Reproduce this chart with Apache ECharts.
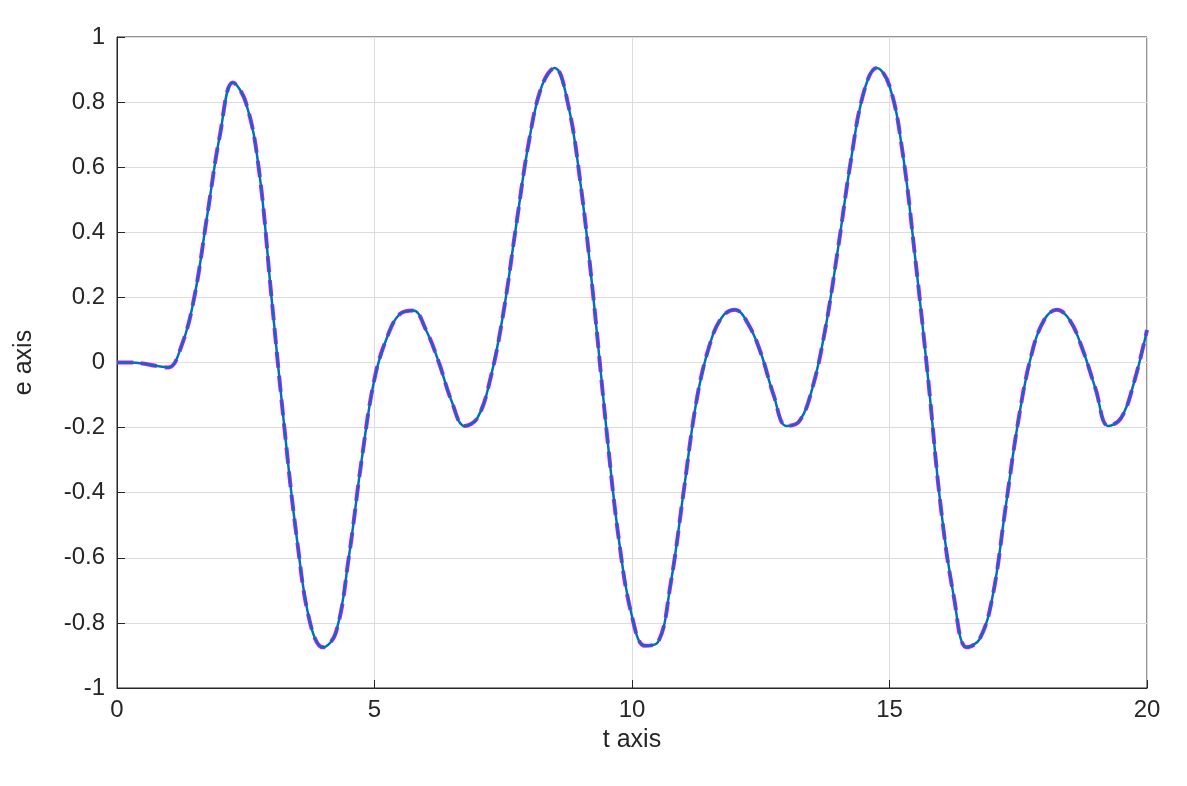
<!DOCTYPE html>
<html>
<head>
<meta charset="utf-8">
<script src="https://cdn.jsdelivr.net/npm/echarts@6/dist/echarts.min.js"></script>
<style>html,body{margin:0;padding:0;background:#fff}#chart{width:1187px;height:786px}</style>
</head>
<body>
<div id="chart"></div>
<script>
// t values (step 0.25) and e values
var tValues = [];
for (var i = 0; i <= 80; i++) { tValues.push(i * 0.25); }
var eValues = [
    0, 0, -0.003, -0.01, -0.015, 0.05, 0.2, 0.45, 0.7, 0.86,
    0.8, 0.6, 0.2, -0.2, -0.55, -0.8, -0.875, -0.83, -0.6, -0.3,
    -0.05, 0.08, 0.15, 0.16, 0.1, 0.0, -0.12, -0.195, -0.17, -0.05,
    0.15, 0.42, 0.68, 0.85, 0.905, 0.8, 0.55, 0.2, -0.2, -0.55,
    -0.78, -0.87, -0.86, -0.68, -0.4, -0.12, 0.05, 0.14, 0.162, 0.12,
    0.03, -0.1, -0.195, -0.18, -0.08, 0.1, 0.35, 0.62, 0.83, 0.905,
    0.85, 0.65, 0.32, -0.05, -0.45, -0.72, -0.875, -0.85, -0.72, -0.45,
    -0.18, 0.02, 0.13, 0.162, 0.13, 0.04, -0.08, -0.195, -0.17, -0.06,
    0.1
];

var data = tValues.map(function (t, i) { return [t, eValues[i]]; });
var font = 'Liberation Sans, Arial, sans-serif';

var chart = echarts.init(document.getElementById('chart'));
chart.setOption({
    animation: false,
    grid: { left: 117, right: 40, top: 37, bottom: 98, show: true, borderColor: '#262626', borderWidth: 1 },
    xAxis: {
        type: 'value', min: 0, max: 20, interval: 5,
        name: 't axis', nameLocation: 'middle', nameGap: 40,
        nameTextStyle: { fontFamily: font, fontSize: 25, color: '#262626' },
        axisLine: { show: true, onZero: false, lineStyle: { color: '#262626' } },
        axisTick: { inside: true, length: 8, lineStyle: { color: '#262626' } },
        axisLabel: { fontFamily: font, fontSize: 24, color: '#262626', margin: 10 },
        splitLine: { lineStyle: { color: '#dcdcdc' } }
    },
    yAxis: {
        type: 'value', min: -1, max: 1, interval: 0.2,
        name: 'e axis', nameLocation: 'middle', nameGap: 80,
        nameTextStyle: { fontFamily: font, fontSize: 25, color: '#262626' },
        axisLine: { show: true, onZero: false, lineStyle: { color: '#262626' } },
        axisTick: { inside: true, length: 8, lineStyle: { color: '#262626' } },
        axisLabel: {
            fontFamily: font, fontSize: 24, color: '#262626', margin: 12,
            formatter: function (v) { return String(Math.round(v * 10) / 10); }
        },
        splitLine: { lineStyle: { color: '#dcdcdc' } }
    },
    series: [
        {
            type: 'line', data: data, smooth: 0.4, showSymbol: false,
            lineStyle: { color: '#ff00ff', width: 4, type: 'dashed' }
        },
        {
            type: 'line', data: data, smooth: 0.4, showSymbol: false,
            lineStyle: { color: '#0072bd', width: 2.5 }
        }
    ]
});
</script>
</body>
</html>
